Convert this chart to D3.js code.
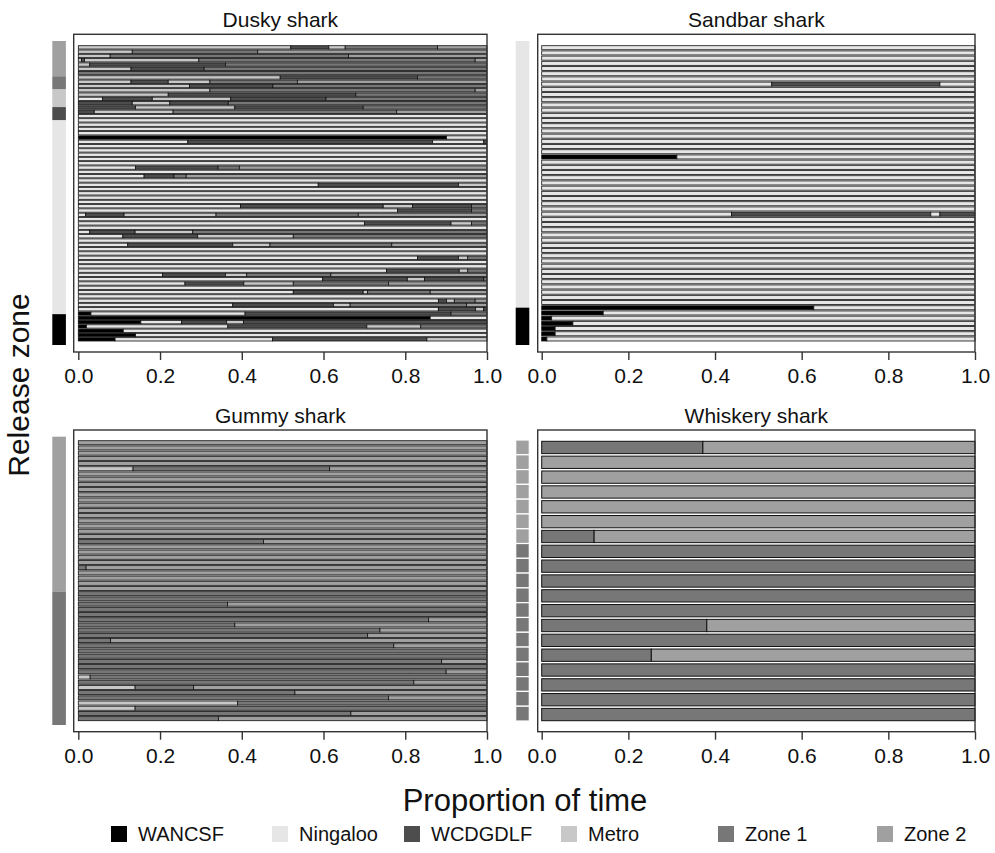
<!DOCTYPE html>
<html>
<head>
<meta charset="utf-8">
<script src="https://cdn.jsdelivr.net/npm/d3@7"></script>
<style>
  body { margin: 0; background: #fff; }
  svg { display: block; font-family: "Liberation Sans", Arial, sans-serif; }
</style>
</head>
<body>
<svg width="995" height="853"></svg>
<script>
(function(d3) {
    'use strict';

    // zones, in legend order
    const zoneCodes = ['WA', 'N', 'WC', 'M', 'Z1', 'Z2'];
    const zoneNames = ['WANCSF', 'Ningaloo', 'WCDGDLF', 'Metro', 'Zone 1', 'Zone 2'];
    const zoneColors = ['#000000', '#e6e6e6', '#4d4d4d', '#c8c8c8', '#777777', '#a0a0a0'];
    const xTicks = [0, 0.2, 0.4, 0.6, 0.8, 1.0];

    // each row: zone, cut, zone, cut, ... , zone  (cuts are proportion of time)
    const duskyRelease = [['Z2', 8], ['Z1', 3], ['M', 4], ['WC', 3], ['N', 44], ['WA', 7]];
    const duskyRows = [
        ['M', .52, 'WC', .613, 'M', .653, 'Z1', .879, 'Z2'],
        ['M', .132, 'Z1', .439, 'Z2'],
        ['M', .078, 'Z1', .661, 'Z2'],
        ['M', .008, 'WC', .015, 'M', .295, 'Z1', .971, 'Z2'],
        ['M', .028, 'WC', .36, 'Z1'],
        ['M', .129, 'WC', .308, 'Z1'],
        ['Z1'],
        ['M', .494, 'WC', .83, 'Z1'],
        ['M', .129, 'WC', .22, 'M', .322, 'Z1', .536, 'Z2'],
        ['M', .272, 'WC', .476, 'Z1'],
        ['M', .322, 'Z1', .971, 'Z2'],
        ['M', .22, 'WC', .679, 'Z1'],
        ['N', .059, 'WC', .181, 'M', .373, 'WC', .606, 'Z1'],
        ['WC', .132, 'M', .224, 'WC', .367, 'Z1'],
        ['WC', .14, 'M', .383, 'WC', .697, 'Z1'],
        ['WC', .039, 'M', .232, 'Z1', .779, 'Z2'],
        ['N'], ['N'], ['N'], ['N'], ['N'],
        ['WA', .901, 'N'],
        ['N', .268, 'WC', .867, 'N', .992, 'WC'],
        ['N'], ['N'], ['N'], ['N'], ['N'],
        ['N', .14, 'WC', .342, 'Z1', .394, 'Z2'],
        ['N'],
        ['N', .161, 'WC', .234, 'Z1', .264, 'Z2'],
        ['N'],
        ['N', .587, 'WC', .93, 'M'],
        ['N'], ['N'], ['N'], ['N'],
        ['N', .397, 'WC', .746, 'M', .818, 'WC', .962, 'Z1'],
        ['N', .781, 'WC', .962, 'Z1'],
        ['N', .018, 'WC', .112, 'M', .337, 'Z1', .685, 'Z2'],
        ['N'],
        ['N', .70, 'WC', .912, 'M', .962, 'Z1'],
        ['N'],
        ['N', .028, 'WC', .139, 'M', .28, 'Z1'],
        ['N', .109, 'WC', .292, 'M', .526, 'Z1'],
        ['N'],
        ['N', .121, 'WC', .378, 'M', .469, 'Z1', .767, 'Z2'],
        ['N'], ['N'],
        ['N', .83, 'WC', .93, 'M', .953, 'Z1'],
        ['N'], ['N'],
        ['N', .754, 'WC', .932, 'M', .953, 'Z1'],
        ['N', .206, 'WC', .36, 'M', .412, 'Z1', .618, 'Z2'],
        ['N', .598, 'WC', .805, 'M', .847, 'WC', .992, 'Z1'],
        ['N', .261, 'WC', .405, 'M', .526, 'Z1', .759, 'Z2'],
        ['N'],
        ['N', .526, 'WC', .697, 'M', .708, 'Z1', .861, 'Z2'],
        ['N'],
        ['N', .881, 'WC', .901, 'M', .92, 'Z1', .971, 'Z2'],
        ['N', .378, 'WC', .624, 'M', .665, 'Z1', .95, 'Z2'],
        ['N', .881, 'WC', .972, 'M', .992, 'WC'],
        ['WA', .031, 'N', .408, 'WC', .912, 'Z1'],
        ['WA', .861, 'N'],
        ['WA', .153, 'N', .253, 'WC', .363, 'M', .404, 'WC'],
        ['WA', .02, 'N', .366, 'WC', .706, 'M', .838, 'Z1'],
        ['WA', .11, 'N'],
        ['WA', .14, 'N'],
        ['WA', .09, 'N', .475, 'WC', .853, 'M']
    ];

    const sandbarRelease = [['N', 50], ['WA', 7]];
    const sandbarRows = [
        ['N'], ['N'], ['N'], ['N'], ['N'], ['N'], ['N'],
        ['N', .531, 'WC', .919, 'N'],
        ['N'], ['N'], ['N'], ['N'], ['N'], ['N'], ['N'], ['N'], ['N'], ['N'], ['N'], ['N'], ['N'],
        ['WA', .312, 'N'],
        ['N'], ['N'], ['N'], ['N'], ['N'], ['N'], ['N'], ['N'], ['N'], ['N'],
        ['N', .438, 'WC', .898, 'N', .919, 'WC'],
        ['N'], ['N'], ['N'], ['N'], ['N'], ['N'], ['N'], ['N'], ['N'],
        ['N'], ['N'], ['N'], ['N'], ['N'], ['N'], ['N'], ['N'],
        ['WA', .628, 'N'],
        ['WA', .142, 'N'],
        ['WA', .023, 'N'],
        ['WA', .072, 'N'],
        ['WA', .031, 'N'],
        ['WA', .031, 'N'],
        ['WA', .012, 'N']
    ];

    const gummyRelease = [['Z2', 29], ['Z1', 25]];
    const gummyRows = [
        ['Z2'], ['Z2'], ['Z2'], ['Z2'], ['Z2'],
        ['M', .134, 'Z1', .615, 'Z2'],
        ['Z2'], ['Z2'], ['Z2'], ['Z2'], ['Z2'], ['Z2'], ['Z2'], ['Z2'], ['Z2'],
        ['Z2'], ['Z2'], ['Z2'], ['Z2'],
        ['Z1', .453, 'Z2'],
        ['Z2'], ['Z2'], ['Z2'], ['Z2'],
        ['Z1', .019, 'Z2'],
        ['Z2'], ['Z2'], ['Z2'], ['Z2'],
        ['Z1'], ['Z1'],
        ['Z1', .365, 'Z2'],
        ['Z1'], ['Z1'],
        ['Z1', .857, 'Z2'],
        ['Z1', .383, 'Z2'],
        ['Z1', .738, 'Z2'],
        ['Z1', .708, 'Z2'],
        ['Z1', .079, 'Z2'],
        ['Z1', .772, 'Z2'],
        ['Z1'], ['Z1'],
        ['Z1', .889, 'Z2'],
        ['Z1'],
        ['Z1', .900, 'Z2'],
        ['M', .029, 'Z1'],
        ['Z1', .821, 'Z2'],
        ['M', .139, 'Z1', .282, 'Z2'],
        ['Z1', .530, 'Z2'],
        ['Z1', .759, 'Z2'],
        ['M', .390, 'Z1'],
        ['M', .139, 'Z1'],
        ['Z1', .667, 'Z2'],
        ['Z1', .343, 'Z2']
    ];

    const whiskeryRelease = [['Z2', 7], ['Z1', 12]];
    const whiskeryRows = [
        ['Z1', .372, 'Z2'],
        ['Z2'], ['Z2'], ['Z2'], ['Z2'], ['Z2'],
        ['Z1', .121, 'Z2'],
        ['Z1'], ['Z1'], ['Z1'], ['Z1'], ['Z1'],
        ['Z1', .381, 'Z2'],
        ['Z1'],
        ['Z1', .253, 'Z2'],
        ['Z1'], ['Z1'], ['Z1'], ['Z1']
    ];

    const color = d3.scaleOrdinal().domain(zoneCodes).range(zoneColors);

    const toSegments = row => {
        const segs = [];
        let start = 0;
        for (let i = 0; i < row.length; i += 2) {
            const end = i + 1 < row.length ? row[i + 1] : 1;
            segs.push({ zone: row[i], start, end });
            start = end;
        }
        return segs;
    };

    const panels = [
        { title: 'Dusky shark', rows: duskyRows, release: duskyRelease,
          x0: 78.3, x1: 487, boxLeft: 73.7, boxTop: 34.3, boxBottom: 352,
          barTop: 45.7, barBottom: 341, zoneTop: 41, zoneBottom: 345, zoneX: 52.3, pad: 0.22, cells: false },
        { title: 'Sandbar shark', rows: sandbarRows, release: sandbarRelease,
          x0: 541.7, x1: 975, boxLeft: 537.7, boxTop: 34.3, boxBottom: 352,
          barTop: 45.7, barBottom: 341, zoneTop: 41, zoneBottom: 345, zoneX: 515.7, pad: 0.22, cells: false },
        { title: 'Gummy shark', rows: gummyRows, release: gummyRelease,
          x0: 78.3, x1: 487, boxLeft: 73.7, boxTop: 430, boxBottom: 731.7,
          barTop: 440.7, barBottom: 720.7, zoneTop: 436.7, zoneBottom: 725, zoneX: 52.3, pad: 0.22, cells: false },
        { title: 'Whiskery shark', rows: whiskeryRows, release: whiskeryRelease,
          x0: 541.7, x1: 975, boxLeft: 537.7, boxTop: 430, boxBottom: 731.7,
          barTop: 441.3, barBottom: 720.7, zoneTop: 440, zoneBottom: 721, zoneX: 515.7, pad: 0.17, cells: true }
    ];

    const svg = d3.select('svg');

    const drawPanel = (g, p) => {
        const x = d3.scaleLinear().domain([0, 1]).range([p.x0, p.x1]);
        const y = d3.scaleBand()
            .domain(d3.range(p.rows.length))
            .range([p.barTop, p.barBottom])
            .paddingInner(p.pad);

        // release zone strip
        const releaseCodes = p.release.flatMap(([code, n]) => d3.range(n).map(() => code));
        const yz = d3.scaleBand()
            .domain(d3.range(releaseCodes.length))
            .range([p.zoneTop, p.zoneBottom]);
        if (p.cells) {
            g.append('g').selectAll('rect')
                .data(releaseCodes)
                .enter().append('rect')
                .attr('x', p.zoneX)
                .attr('y', (d, i) => yz(i))
                .attr('width', 13.6)
                .attr('height', yz.bandwidth())
                .attr('fill', color)
                .attr('stroke', '#fff')
                .attr('stroke-width', 1.2);
        } else {
            let idx = 0;
            const groups = p.release.map(([code, n]) => {
                const gr = { code, first: idx, last: idx + n - 1 };
                idx += n;
                return gr;
            });
            g.append('g').selectAll('rect')
                .data(groups)
                .enter().append('rect')
                .attr('x', p.zoneX)
                .attr('y', d => yz(d.first))
                .attr('width', 13.6)
                .attr('height', d => yz(d.last) + yz.bandwidth() - yz(d.first))
                .attr('fill', d => color(d.code));
        }

        // bars
        const rowG = g.append('g').selectAll('g')
            .data(p.rows)
            .enter().append('g')
            .attr('transform', (d, i) => `translate(0,${y(i)})`);
        rowG.selectAll('rect')
            .data(toSegments)
            .enter().append('rect')
            .attr('x', d => x(d.start))
            .attr('width', d => x(d.end) - x(d.start))
            .attr('height', y.bandwidth())
            .attr('fill', d => color(d.zone))
            .attr('stroke', '#111')
            .attr('stroke-width', p.cells ? 1 : 0.8);

        // frame
        g.append('rect')
            .attr('x', p.boxLeft)
            .attr('y', p.boxTop)
            .attr('width', p.x1 - p.boxLeft)
            .attr('height', p.boxBottom - p.boxTop)
            .attr('fill', 'none')
            .attr('stroke', '#333')
            .attr('stroke-width', 1.4);

        // axis
        const axis = g.append('g')
            .attr('transform', `translate(0,${p.boxBottom})`)
            .call(d3.axisBottom(x)
                .tickValues(xTicks)
                .tickFormat(d3.format('.1f'))
                .tickSize(8)
                .tickPadding(8));
        axis.select('.domain').remove();
        axis.selectAll('line').attr('stroke', '#333').attr('stroke-width', 1.4);
        axis.selectAll('text')
            .attr('fill', '#111')
            .style('font-size', '21px');

        // title
        g.append('text')
            .attr('x', (p.boxLeft + p.x1) / 2)
            .attr('y', p.boxTop - 7)
            .attr('text-anchor', 'middle')
            .attr('fill', '#111')
            .style('font-size', '21px')
            .text(p.title);
    };

    panels.forEach(p => svg.append('g').call(drawPanel, p));

    // axis titles
    svg.append('text')
        .attr('transform', 'translate(29,385) rotate(-90)')
        .attr('text-anchor', 'middle')
        .attr('fill', '#111')
        .style('font-size', '30px')
        .text('Release zone');

    svg.append('text')
        .attr('x', 525)
        .attr('y', 811)
        .attr('text-anchor', 'middle')
        .attr('fill', '#111')
        .style('font-size', '31px')
        .text('Proportion of time');

    // legend
    const legendX = [111, 272, 404, 561, 718, 877];
    const legend = svg.append('g').selectAll('g')
        .data(zoneCodes)
        .enter().append('g')
        .attr('transform', (d, i) => `translate(${legendX[i]},826)`);
    legend.append('rect')
        .attr('width', 16)
        .attr('height', 16)
        .attr('fill', color);
    legend.append('text')
        .attr('x', 27)
        .attr('y', 8)
        .attr('dy', '0.35em')
        .attr('fill', '#111')
        .style('font-size', '20px')
        .text((d, i) => zoneNames[i]);
}(d3));
</script>
</body>
</html>
